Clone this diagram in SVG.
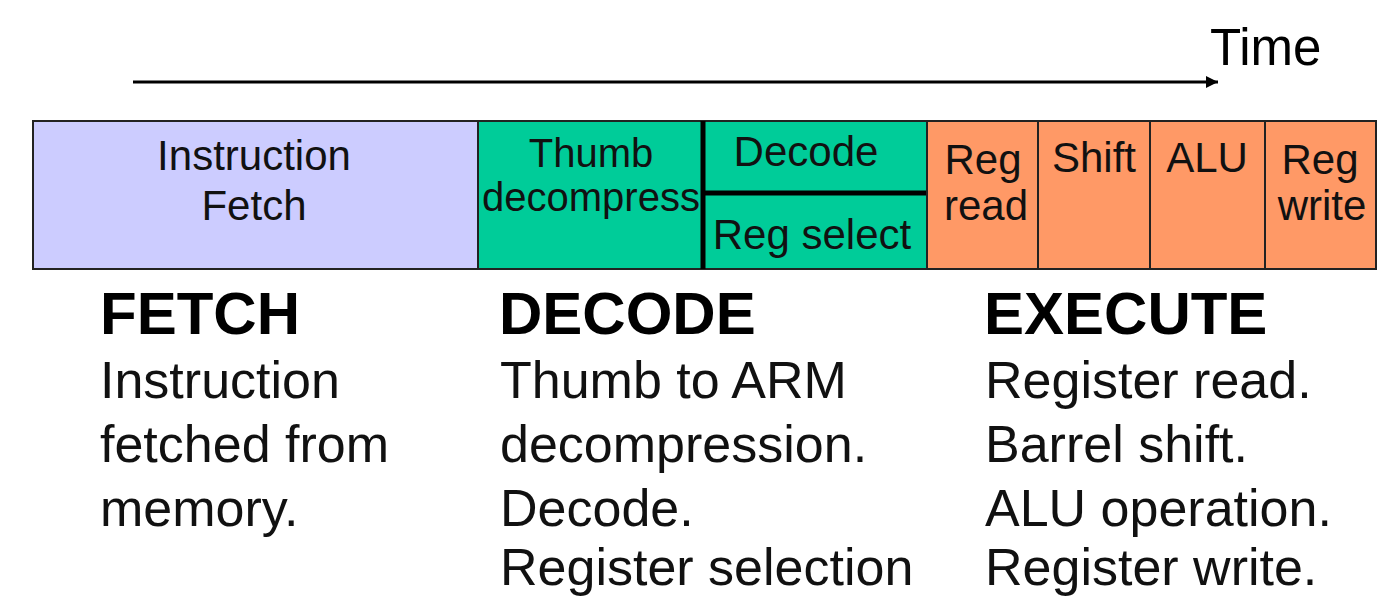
<svg xmlns="http://www.w3.org/2000/svg" width="1396" height="614" viewBox="0 0 1396 614">
<style>
text{font-family:"Liberation Sans",Arial,sans-serif;fill:#000}
.box{font-size:42px;text-anchor:middle;fill:#111}
.gbox{font-size:40px;text-anchor:middle;fill:#111}
.head{font-size:60px;font-weight:bold}
.body{font-size:52px;fill:#111}
.cell{stroke:#222;stroke-width:2}
.thick{stroke:#000;stroke-width:5}
</style>
<defs>
<marker id="arr" viewBox="0 0 10 10" refX="10" refY="5" markerWidth="5" markerHeight="4" orient="auto" markerUnits="strokeWidth">
<path d="M0,0 L10,5 L0,10 z" fill="#000"/>
</marker>
</defs>
<rect width="1396" height="614" fill="#fff"/>
<g id="connectors">
<line x1="133" y1="82" x2="1218" y2="82" stroke="#000" stroke-width="3" marker-end="url(#arr)"/>
</g>
<g id="time-label"><text x="1210" y="65" style="font-size:51px">Time</text></g>
<g id="instruction-fetch">
<rect class="cell" x="33" y="121" width="445" height="148" fill="#CCCCFF"/>
<text class="box" x="254" y="170">Instruction</text>
<text class="box" x="254" y="220">Fetch</text>
</g>
<g id="thumb-decompress">
<rect class="cell" x="478" y="121" width="225" height="148" fill="#00CC99"/>
<text class="gbox" x="591" y="167">Thumb</text>
<text class="gbox" x="591" y="211">decompress</text>
</g>
<g id="decode-cell">
<rect class="cell" x="703" y="121" width="224" height="72" fill="#00CC99"/>
<text class="box" x="806" y="166">Decode</text>
</g>
<g id="reg-select">
<rect class="cell" x="703" y="193" width="224" height="76" fill="#00CC99"/>
<text class="box" x="812" y="249">Reg select</text>
</g>
<line class="thick" x1="703" y1="121" x2="703" y2="269"/>
<line class="thick" x1="703" y1="193" x2="927" y2="193"/>
<g id="reg-read">
<rect class="cell" x="927" y="121" width="111" height="148" fill="#FF9966"/>
<text class="box" x="983" y="174">Reg</text>
<text class="box" x="986" y="220">read</text>
</g>
<g id="shift">
<rect class="cell" x="1038" y="121" width="112" height="148" fill="#FF9966"/>
<text class="box" x="1094" y="172">Shift</text>
</g>
<g id="alu">
<rect class="cell" x="1150" y="121" width="115" height="148" fill="#FF9966"/>
<text class="box" x="1207" y="172">ALU</text>
</g>
<g id="reg-write">
<rect class="cell" x="1265" y="121" width="111" height="148" fill="#FF9966"/>
<text class="box" x="1320" y="174">Reg</text>
<text class="box" x="1322" y="220">write</text>
</g>
<g id="fetch-desc">
<text class="head" x="100" y="334">FETCH</text>
<text class="body" x="100" y="398">Instruction</text>
<text class="body" x="100" y="462">fetched from</text>
<text class="body" x="100" y="526">memory.</text>
</g>
<g id="decode-desc">
<text class="head" x="499" y="334">DECODE</text>
<text class="body" x="500" y="398">Thumb to ARM</text>
<text class="body" x="500" y="462">decompression.</text>
<text class="body" x="500" y="526">Decode.</text>
<text class="body" x="500" y="585">Register selection</text>
</g>
<g id="execute-desc">
<text class="head" x="984" y="334">EXECUTE</text>
<text class="body" x="985" y="398">Register read.</text>
<text class="body" x="985" y="462">Barrel shift.</text>
<text class="body" x="985" y="526">ALU operation.</text>
<text class="body" x="985" y="585">Register write.</text>
</g>
</svg>
